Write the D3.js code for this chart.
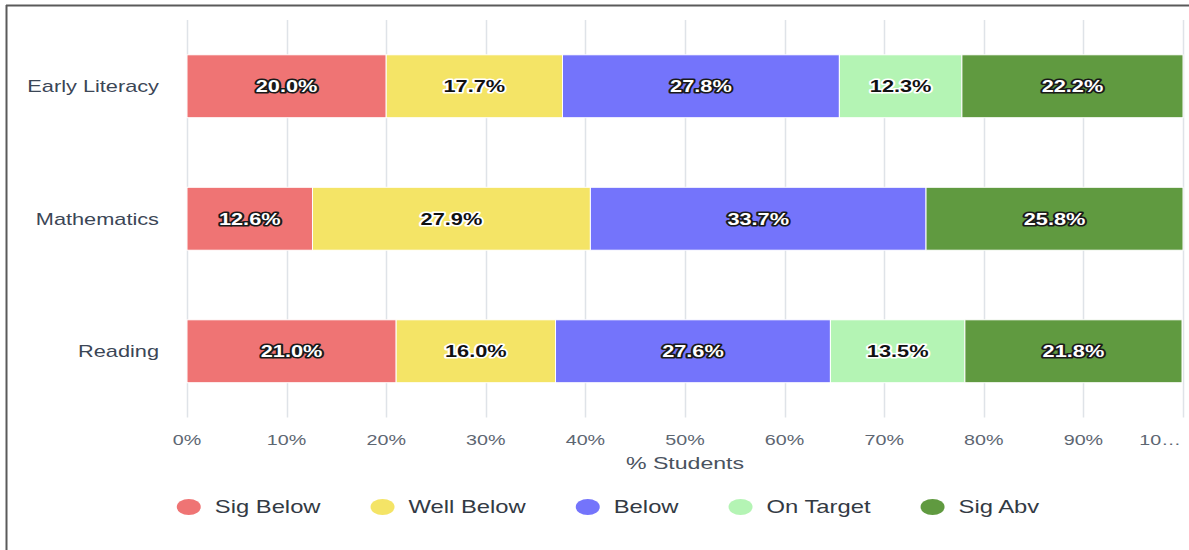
<!DOCTYPE html>
<html>
<head>
<meta charset="utf-8">
<script src="https://cdn.jsdelivr.net/npm/d3@7"></script>
<style>
  html, body { margin: 0; padding: 0; background: #fff; }
  svg { display: block; font-family: "Liberation Sans", Arial, sans-serif; }
</style>
</head>
<body>
<svg id="chart" width="1189" height="550"></svg>
<script>
// ---- data ----
const categories = ["Early Literacy", "Mathematics", "Reading"];
const seriesNames = ["Sig Below", "Well Below", "Below", "On Target", "Sig Abv"];
const seriesColors = ["#ef7474", "#f4e466", "#7474fb", "#b4f4b4", "#609a40"];
const sigBelow  = [20.0, 12.6, 21.0];
const wellBelow = [17.7, 27.9, 16.0];
const below     = [27.8, 33.7, 27.6];
const onTarget  = [12.3, 0,    13.5];
const sigAbv    = [22.2, 25.8, 21.8];
const tickValues = [0, 10, 20, 30, 40, 50, 60, 70, 80, 90, 100];
const tickLabels = ["0%", "10%", "20%", "30%", "40%", "50%", "60%", "70%", "80%", "90%", "10…"];
const xTitle = "% Students";

const seriesValues = [sigBelow, wellBelow, below, onTarget, sigAbv];
const darkSeries = [true, false, true, false, true];

// ---- layout ----
const SX = 1.36; // horizontal stretch of the text
const svg = d3.select("#chart");
const plot = { left: 187, right: 1183, top: 20, bottom: 417.5 };

const x = d3.scaleLinear().domain([0, 100]).range([plot.left, plot.right]);
const y = d3.scaleBand().domain(categories).range([plot.top, plot.bottom])
  .paddingInner(0.525).paddingOuter(0.2625);

// frame
svg.append("line").attr("x1", 6).attr("x2", 1189).attr("y1", 5.5).attr("y2", 5.5)
  .attr("stroke", "#5a5a5a").attr("stroke-width", 2);
svg.append("line").attr("x1", 6.5).attr("x2", 6.5).attr("y1", 5).attr("y2", 550)
  .attr("stroke", "#5a5a5a").attr("stroke-width", 2);

// gridlines
svg.append("g").selectAll("line").data(tickValues).join("line")
  .attr("x1", d => Math.round(x(d)) + 0.5).attr("x2", d => Math.round(x(d)) + 0.5)
  .attr("y1", plot.top).attr("y2", plot.bottom)
  .attr("stroke", "#dfe3e8").attr("stroke-width", 1.5);

// stacked data
const rows = categories.map((c, i) => {
  let acc = 0;
  return seriesValues.map((vals, s) => {
    const v = vals[i];
    const seg = { cat: c, s, v, x0: acc, x1: acc + v };
    acc += v;
    return seg;
  });
});
const segs = rows.flat().filter(d => d.v > 0);

// bars
svg.append("g").selectAll("rect").data(segs).join("rect")
  .attr("x", d => x(d.x0))
  .attr("y", d => y(d.cat))
  .attr("width", d => x(d.x1) - x(d.x0))
  .attr("height", y.bandwidth())
  .attr("fill", d => seriesColors[d.s])
  .attr("stroke", "#ffffff").attr("stroke-width", 1);

// data labels
svg.append("g").selectAll("text").data(segs).join("text")
  .attr("transform", d => `translate(${(x(d.x0) + x(d.x1)) / 2},${y(d.cat) + y.bandwidth() / 2}) scale(${SX},1)`)
  .attr("text-anchor", "middle").attr("dy", "0.36em")
  .attr("font-size", 16).attr("font-weight", "bold")
  .attr("fill", d => darkSeries[d.s] ? "#ffffff" : "#111111")
  .attr("stroke", d => darkSeries[d.s] ? "#1a1a1a" : "#ffffff")
  .attr("stroke-width", 3.2).attr("stroke-linejoin", "round")
  .attr("paint-order", "stroke")
  .text(d => d.v.toFixed(1) + "%");

// category labels
svg.append("g").selectAll("text").data(categories).join("text")
  .attr("transform", d => `translate(159,${y(d) + y.bandwidth() / 2}) scale(${SX},1)`)
  .attr("text-anchor", "end").attr("dy", "0.36em")
  .attr("font-size", 16).attr("fill", "#3b4656")
  .text(d => d);

// x tick labels (last one kept inside the chart edge)
const nT = tickValues.length;
svg.append("g").selectAll("text").data(tickValues).join("text")
  .attr("transform", (d, i) => `translate(${i === nT - 1 ? plot.right - 2 : x(d)},445) scale(${SX},1)`)
  .attr("text-anchor", (d, i) => i === nT - 1 ? "end" : "middle")
  .attr("font-size", 14.5).attr("fill", "#5d6672")
  .text((d, i) => tickLabels[i]);

// x title
svg.append("text")
  .attr("transform", `translate(${(plot.left + plot.right) / 2},469) scale(${SX},1)`)
  .attr("text-anchor", "middle")
  .attr("font-size", 17).attr("fill", "#4a5360")
  .text(xTitle);

// legend
const lg = svg.append("g");
const items = seriesNames.map((n, i) => {
  const g = lg.append("g");
  g.append("ellipse").attr("cx", 0).attr("cy", 507).attr("rx", 12).attr("ry", 8)
    .attr("fill", seriesColors[i]);
  const t = g.append("text")
    .attr("transform", `translate(26,513) scale(${SX},1)`)
    .attr("font-size", 17.5).attr("fill", "#333a44")
    .text(n);
  const w = 26 + t.node().getComputedTextLength() * SX;
  return { g, w };
});
const gap = 62;
const total = d3.sum(items, d => d.w) + 12 + gap * (items.length - 1);
let cx = 608 - total / 2 + 12;
items.forEach(it => {
  it.g.attr("transform", `translate(${cx},0)`);
  cx += it.w + gap;
});
</script>
</body>
</html>
